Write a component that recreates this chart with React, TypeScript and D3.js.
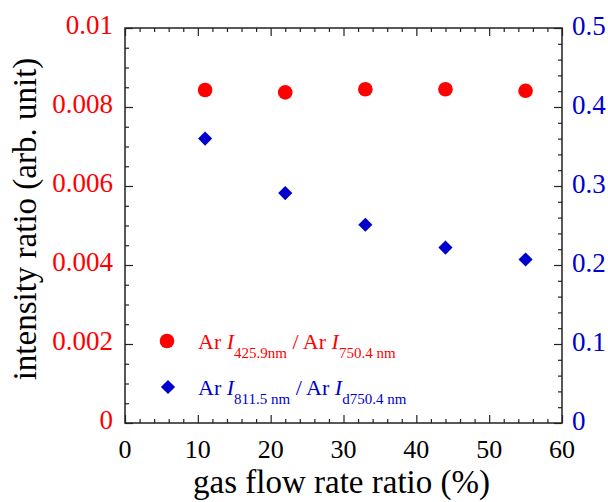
import { useEffect, useRef } from "react";
import * as d3 from "d3";

// gas flow rate ratio (%) at each measurement
const flowRatio = [11, 22, 33, 44, 55];
// Ar I425.9nm / Ar I750.4nm (left axis)
const ratio4259 = [0.00843, 0.00837, 0.00845, 0.00845, 0.00841];
// Ar I811.5nm / Ar Id750.4nm (right axis)
const ratio8115 = [0.36, 0.291, 0.251, 0.222, 0.207];

const xDomain = [0, 60];
const leftDomain = [0, 0.01];
const rightDomain = [0, 0.5];

const RED = "#ff0000";
const BLUE = "#0000cc";
const FONT = "Liberation Serif, serif";

export default function App() {
  const svgRef = useRef<SVGSVGElement | null>(null);

  useEffect(() => {
    const width = 608;
    const height = 502;
    const margin = { top: 28, right: 46, bottom: 79, left: 125 };
    const innerWidth = width - margin.left - margin.right;
    const innerHeight = height - margin.top - margin.bottom;

    const svg = d3.select(svgRef.current);
    svg.selectAll("*").remove();
    svg.attr("width", width).attr("height", height);

    const x = d3.scaleLinear().domain(xDomain).range([0, innerWidth]);
    const yL = d3.scaleLinear().domain(leftDomain).range([innerHeight, 0]);
    const yR = d3.scaleLinear().domain(rightDomain).range([innerHeight, 0]);

    const g = svg.append("g").attr("transform", `translate(${margin.left},${margin.top})`);
    const axisColor = "#222";

    // inward ticks on all four sides, labels drawn separately
    const tickAxis = (axis: any, values: number[], size: number, transform: string) => {
      g.append("g")
        .attr("transform", transform)
        .call(axis.tickValues(values).tickSize(size).tickFormat(() => ""))
        .call((s: any) => s.select(".domain").remove())
        .call((s: any) => s.selectAll("text").remove())
        .call((s: any) => s.selectAll("line").attr("stroke", axisColor).attr("stroke-width", 1.2));
    };
    const xMajor = x.ticks(6);
    const xMinor = x.ticks(30).filter((v) => !xMajor.includes(v));
    const lMajor = yL.ticks(5);
    const lMinor = yL.ticks(25).filter((v) => !lMajor.some((m) => Math.abs(m - v) < 1e-9));
    const rMajor = yR.ticks(5);
    const rMinor = yR.ticks(25).filter((v) => !rMajor.some((m) => Math.abs(m - v) < 1e-9));

    tickAxis(d3.axisBottom(x), xMajor, -8, `translate(0,${innerHeight})`);
    tickAxis(d3.axisBottom(x), xMinor, -4, `translate(0,${innerHeight})`);
    tickAxis(d3.axisTop(x), xMajor, -8, "translate(0,0)");
    tickAxis(d3.axisTop(x), xMinor, -4, "translate(0,0)");
    tickAxis(d3.axisLeft(yL), lMajor, -8, "translate(0,0)");
    tickAxis(d3.axisLeft(yL), lMinor, -4, "translate(0,0)");
    tickAxis(d3.axisRight(yR), rMajor, -8, `translate(${innerWidth},0)`);
    tickAxis(d3.axisRight(yR), rMinor, -4, `translate(${innerWidth},0)`);

    g.append("rect")
      .attr("width", innerWidth)
      .attr("height", innerHeight)
      .attr("fill", "none")
      .attr("stroke", axisColor)
      .attr("stroke-width", 1.5);

    const fmt = d3.format("~g");

    const labels = svg.append("g").style("font-family", FONT);

    labels.selectAll("text.xlab")
      .data(xMajor)
      .join("text")
      .attr("class", "xlab")
      .attr("x", (d) => margin.left + x(d))
      .attr("y", margin.top + innerHeight + 35)
      .attr("text-anchor", "middle")
      .attr("font-size", 26)
      .attr("fill", "#000")
      .text((d) => fmt(d));

    labels.selectAll("text.llab")
      .data(lMajor)
      .join("text")
      .attr("class", "llab")
      .attr("x", margin.left - 12)
      .attr("y", (d) => margin.top + yL(d) + 6)
      .attr("text-anchor", "end")
      .attr("font-size", 27)
      .attr("fill", RED)
      .text((d) => fmt(d));

    labels.selectAll("text.rlab")
      .data(rMajor)
      .join("text")
      .attr("class", "rlab")
      .attr("x", margin.left + innerWidth + 10)
      .attr("y", (d) => margin.top + yR(d) + 7)
      .attr("text-anchor", "start")
      .attr("font-size", 27)
      .attr("fill", BLUE)
      .text((d) => fmt(d));

    labels.append("text")
      .attr("x", margin.left + innerWidth / 2 - 2)
      .attr("y", 493)
      .attr("text-anchor", "middle")
      .attr("font-size", 33)
      .attr("fill", "#000")
      .text("gas flow rate ratio (%)");

    labels.append("text")
      .attr("transform", "rotate(-90)")
      .attr("x", -219)
      .attr("y", 36)
      .attr("text-anchor", "middle")
      .attr("font-size", 33)
      .attr("fill", "#000")
      .text("intensity ratio (arb. unit)");

    // points
    g.selectAll("circle.pt-red")
      .data(flowRatio.map((f, i) => [f, ratio4259[i]]))
      .join("circle")
      .attr("class", "pt-red")
      .attr("cx", (d) => x(d[0]))
      .attr("cy", (d) => yL(d[1]))
      .attr("r", 7.3)
      .attr("fill", RED);

    const diamond = d3.symbol(d3.symbolSquare, 100);
    g.selectAll("path.pt-blue")
      .data(flowRatio.map((f, i) => [f, ratio8115[i]]))
      .join("path")
      .attr("class", "pt-blue")
      .attr("d", diamond)
      .attr("transform", (d) => `translate(${x(d[0])},${yR(d[1])}) rotate(45)`)
      .attr("fill", BLUE);

    // legend
    const legend = [
      { color: RED, sub1: "425.9nm", sub2: "750.4 nm", y: 341 },
      { color: BLUE, sub1: "811.5 nm", sub2: "d750.4 nm", y: 387 },
    ];
    legend.forEach((l, i) => {
      if (i === 0) {
        svg.append("circle").attr("cx", 167).attr("cy", l.y).attr("r", 7.3).attr("fill", l.color);
      } else {
        svg.append("path")
          .attr("d", diamond)
          .attr("transform", `translate(168,${l.y}) rotate(45)`)
          .attr("fill", l.color);
      }
      const t = labels.append("text")
        .attr("x", 198)
        .attr("y", l.y + 8)
        .attr("font-size", 22)
        .attr("fill", l.color);
      t.append("tspan").text("Ar ");
      t.append("tspan").attr("font-style", "italic").text("I");
      t.append("tspan").attr("font-size", 15).attr("dy", 9).text(l.sub1);
      t.append("tspan").attr("dy", -9).text(" / Ar ");
      t.append("tspan").attr("font-style", "italic").text("I");
      t.append("tspan").attr("font-size", 15).attr("dy", 9).text(l.sub2);
    });
  }, []);

  return (
    <div style={{ position: "absolute", left: 0, top: 0 }}>
      <svg ref={svgRef} style={{ display: "block" }} />
    </div>
  );
}
